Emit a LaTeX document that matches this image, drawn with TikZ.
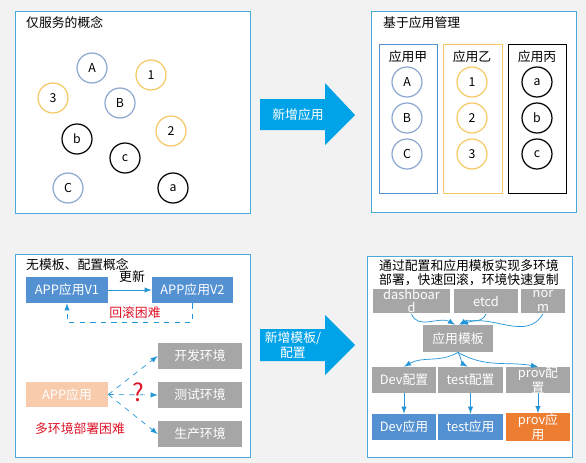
\documentclass[tikz,border=0pt]{standalone}
\usepackage{fontspec}
\setmainfont{Noto Sans CJK SC}
\usepackage{tikz}
\usetikzlibrary{arrows,calc}
\definecolor{bgc}{RGB}{242,242,242}
\definecolor{pnl}{RGB}{75,170,220}
\definecolor{cblue}{RGB}{140,168,208}
\definecolor{cyel}{RGB}{245,200,100}
\definecolor{bblue}{RGB}{83,145,210}
\definecolor{gbox}{RGB}{166,166,166}
\definecolor{peach}{RGB}{248,203,173}
\definecolor{orng}{RGB}{237,125,49}
\definecolor{bigarr}{RGB}{0,162,232}
\definecolor{lnk}{RGB}{35,150,215}
\definecolor{warn}{RGB}{222,20,40}

\begin{document}
\begin{tikzpicture}[x=0.02cm,y=-0.02cm,font=\fontsize{7.3}{8.6}\selectfont,
    ball/.style={circle,draw,line width=0.7pt,minimum size=0.6cm,inner sep=0pt,font=\fontsize{7}{7}\selectfont},
    tile/.style={rectangle,fill=gbox,text=white,inner sep=0pt,align=center,minimum height=0.52cm},
    link/.style={draw=lnk,-latex,thin},
    back/.style={draw=lnk,-latex,thin,dashed}]
              \useasboundingbox (0,0) rectangle (586,463);
              \fill[bgc](0,0)rectangle(586,463);
              % four panels
              \foreach \a/\b/\c/\d in {15/11/250/213, 371/11/576/212, 15/254/250/457, 367/256/572/457}
                \draw[pnl,fill=white](\a,\b)rectangle(\c,\d);
              % big arrows
              \fill[bigarr](260,99)--(325,99)--(325,83)--(355,115)--(325,145)--(325,130)--(260,130)--cycle;
              \fill[bigarr](260,329)--(325,329)--(325,315)--(355,345)--(325,375)--(325,361)--(260,361)--cycle;
              \node[text=white](add1)at(298,115){新增应用};
              \node[text=white,align=center](add2)at(293,345){新增模板/\\配置};

              % panel 1
              \node[anchor=west](t1)at(20,23){仅服务的概念};
              \foreach \n/\x/\y in {A/92/68, B/120/103, C/68/188}
                \node[ball,draw=cblue](s\n)at(\x,\y){\n};
              \foreach \n/\x/\y in {1/151/75, 2/171/131, 3/53/98}
                \node[ball,draw=cyel](s\n)at(\x,\y){\n};
              \foreach \n/\x/\y in {a/173/188, b/77/139, c/125/158}
                \node[ball,draw=black](s\n)at(\x,\y){\n};

              % panel 2
              \node[anchor=west](t2)at(377,23){基于应用管理};
              \draw[bblue](379,44)rectangle(437,193);
              \draw[cyel](443,44)rectangle(502,193);
              \draw[black](508,44)rectangle(566,193);
              \node(g1)at(408,57){应用甲};
              \node(g2)at(472,57){应用乙};
              \node(g3)at(537,57){应用丙};
              \foreach \n/\y in {A/82, B/118, C/154} \node[ball,draw=cblue](m\n)at(407,\y){\n};
              \foreach \n/\y in {1/82, 2/118, 3/154} \node[ball,draw=cyel](m\n)at(472,\y){\n};
              \foreach \n/\y in {a/82, b/118, c/154} \node[ball,draw=black](m\n)at(537,\y){\n};

              % panel 3
              \node[anchor=west](t3)at(20,265){无模板、配置概念};
              \node[tile,fill=bblue,minimum width=1.64cm](v1)at(67,290){APP应用V1};
              \node[tile,fill=bblue,minimum width=1.62cm](v2)at(192.5,290){APP应用V2};
              \draw[link](v1)--(v2);
              \node(upd)at(132,277){更新};
              \draw[back](v2.south)--++(0,19)-|(v1.south);
              \node[text=warn](rb)at(135,313){回滚困难};
              \node[tile,fill=peach,minimum width=1.64cm,minimum height=0.5cm](app)at(67,394.5){APP应用};
              \node[tile,minimum width=1.68cm](dev)at(200,356){开发环境};
              \node[tile,minimum width=1.68cm](test)at(200,395){测试环境};
              \node[tile,minimum width=1.68cm](prod)at(200,434){生产环境};
              \foreach \e in {dev,test,prod} \draw[back](app.east)--(\e.west);
              \node[text=warn,font=\fontsize{14}{14}\selectfont](q)at(138,392){?};
              \node[text=warn](md)at(80,429){多环境部署困难};

              % panel 4
              \node[anchor=west](t4)at(373,266){通过配置和应用模板实现多环境};
              \node[anchor=west](t5)at(373,280){部署，快速回滚，环境快速复制};
              \node[tile,minimum width=1.54cm,minimum height=0.5cm,font=\fontsize{7.3}{7.6}\selectfont](dash)at(411.5,301){dashboar\\d};
              \node[tile,minimum width=1.28cm,minimum height=0.5cm](etcd)at(486,301){etcd};
              \node[tile,minimum width=0.88cm,minimum height=0.5cm,font=\fontsize{7.3}{7.6}\selectfont](norm)at(543,301){nor\\m};
              \node[tile,minimum width=1.4cm,minimum height=0.54cm](tpl)at(458,338.5){应用模板};
              \node[tile,minimum width=1.28cm](devc)at(404,380){Dev配置};
              \node[tile,minimum width=1.3cm](testc)at(470.5,380){test配置};
              \node[tile,minimum width=1.28cm](provc)at(538,380){prov配\\置};
              \node[tile,fill=bblue,minimum width=1.28cm](deva)at(404,427){Dev应用};
              \node[tile,fill=bblue,minimum width=1.3cm](testa)at(470.5,427){test应用};
              \node[tile,fill=orng,minimum width=1.28cm](prova)at(538,427){prov应\\用};
              \draw[link](dash.south)to[out=-70,in=150]($(tpl.north)+(-3,0)$);
              \draw[link](etcd.south)to[out=-110,in=30]($(tpl.north)+(1,0)$);
              \draw[link](norm.south)to[out=-120,in=20]($(tpl.north)+(3,0)$);
              \draw[link](tpl.south)to[out=-150,in=30](devc.north);
              \draw[link](tpl.south)to[out=-60,in=150]($(testc.north)+(-3,0)$);
              \draw[link](tpl.south)to[out=-30,in=170](provc.north);
              \foreach \s/\t in {devc/deva, testc/testa, provc/prova} \draw[link](\s)--(\t);
            \end{tikzpicture}
\end{document}
